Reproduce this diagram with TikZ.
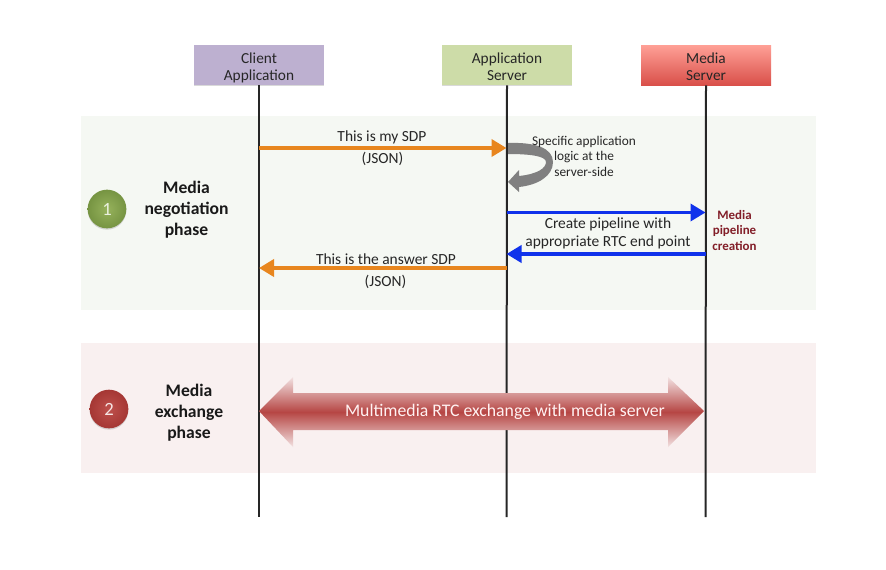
\documentclass[tikz,border=0pt]{standalone}
\usepackage{fontspec}
\setmainfont{Carlito}
\usepackage{xcolor}
\usepackage{tikz}
\usetikzlibrary{arrows.meta, shadows}
\newcommand{\hostrule}{\rule{0pt}{13pt}}
\definecolor{negoband}{RGB}{245, 248, 243}
\definecolor{exchband}{RGB}{249, 240, 240}
\definecolor{clientbox}{RGB}{189, 176, 208}
\definecolor{appbox}{RGB}{205, 220, 168}
\definecolor{mediatop}{RGB}{255, 160, 150}
\definecolor{mediabot}{RGB}{217, 80, 74}
\definecolor{sdporange}{RGB}{232, 134, 30}
\definecolor{rtcblue}{RGB}{16, 50, 235}
\definecolor{logicgray}{RGB}{128, 128, 128}
\definecolor{darkredtext}{RGB}{130, 30, 40}
\definecolor{arrowdark}{RGB}{182, 70, 68}
\definecolor{arrowlight}{RGB}{242, 225, 225}
\definecolor{greenball}{RGB}{150, 178, 92}
\definecolor{greenedge}{RGB}{118, 148, 66}
\definecolor{redball}{RGB}{190, 80, 76}
\definecolor{rededge}{RGB}{165, 55, 52}
\tikzset{
	hostbox/.style={minimum width=97.5pt, minimum height=30pt, inner sep=0pt, align=center,
		font=\fontsize{11.5}{13}\selectfont, text=black!85,
		execute at end node=\rule[-2.2pt]{0pt}{0pt},
		drop shadow={shadow xshift=0pt, shadow yshift=-1pt, opacity=0.3}},
	lifeline/.style={black!85, line width=1.5pt},
	msg/.style={line width=2.7pt, -{Triangle[length=11.25pt, width=12.75pt]}},
	msglabel/.style={font=\fontsize{11.6}{13.5}\selectfont, text=black!85, align=center, inner sep=0pt},
	phaselabel/.style={font=\fontsize{13.2}{15.75}\selectfont\bfseries, text=black!90, align=center, inner sep=0pt},
	phaseball/.style={circle, minimum size=29pt, inner sep=0pt,
		font=\fontsize{14}{15}\selectfont,
		drop shadow={shadow xshift=0pt, shadow yshift=-1pt, opacity=0.3}},
}

\begin{document}
\begin{tikzpicture}[x=0.75pt, y=-0.75pt]
	\useasboundingbox (0,0) rectangle (886,569);

	% phase bands
	\fill[negoband] (81,116) rectangle (816,310);
	\fill[exchband] (81,343) rectangle (816,473);

	% --- hosts and lifelines ---
	\node[hostbox, fill=clientbox] (client) at (259,65) {\hostrule Client\\Application};
	\node[hostbox, fill=appbox] (appsrv) at (507,65) {\hostrule Application\\Server};
	\node[hostbox, top color=mediatop, bottom color=mediabot] (mediasrv) at (706,65) {\hostrule Media\\Server};

	\coordinate (clientend) at (259,517);
	\coordinate (append) at (506.5,517);
	\coordinate (mediaend) at (705.5,517);
	\draw[lifeline] (client.south) -- (clientend);
	\draw[lifeline] (appsrv.south) -- (append);
	\draw[lifeline] (mediasrv.south) -- (mediaend);

	% --- messages ---
	\coordinate (offerc) at (259,148);
	\coordinate (offera) at (506.5,148);
	\coordinate (createa) at (506.5,212.5);
	\coordinate (createm) at (705.5,212.5);
	\coordinate (readym) at (705.5,254);
	\coordinate (readya) at (506.5,254);
	\coordinate (answera) at (506.5,268);
	\coordinate (answerc) at (259,268);

	\draw[msg, sdporange] (offerc) -- (offera);
	\draw[msg, rtcblue] (createa) -- (createm);
	\draw[msg, rtcblue] (readym) -- (readya);
	\draw[msg, sdporange] (answera) -- (answerc);

	\node[msglabel] (offertop) at (382,137) {This is my SDP};
	\node[msglabel] (offerbot) at (382.5,159) {(JSON)};
	\node[msglabel] (createlabel) at (608,233) {Create pipeline with\\appropriate RTC end point};
	\node[msglabel] (answertop) at (386,259) {This is the answer SDP};
	\node[msglabel] (answerbot) at (385.5,282) {(JSON)};

	% server-side loop
	\fill[logicgray] (508,143) .. controls (535,142) and (553,148) .. (553,162)
		.. controls (553,176) and (538,185) .. (519,187)
		-- (519,192) -- (508,182) -- (519,170) -- (519,176)
		.. controls (538,174) and (546,168) .. (546,162)
		.. controls (546,156) and (530,154) .. (508,154) -- cycle;
	\node[msglabel, font=\fontsize{10}{11.6}\selectfont] (logiclabel) at (584,156) {Specific application\\logic at the\\server-side};
	\node[msglabel, font=\fontsize{9.7}{11.3}\selectfont\bfseries, text=darkredtext] (pipelabel) at (734.5,230.5) {Media\\pipeline\\creation};

	% --- phases ---
	\node[phaseball, inner color=greenball, outer color=greenedge, text=white!80!greenball] (ballone) at (107,209) {1};
	\node[phaselabel] (negolabel) at (186.5,210) {Media\\negotiation\\phase};
	\node[phaseball, inner color=redball, outer color=rededge, text=white!85!redball] (balltwo) at (109,409) {2};
	\node[phaselabel] (exchlabel) at (189,413) {Media\\exchange\\phase};

	% --- media exchange arrow ---
	\shade[top color=arrowlight, bottom color=arrowlight, middle color=arrowdark]
		(259,411) -- (293,377) -- (293,393) -- (668,393) -- (668,377) -- (704,411)
		-- (668,447) -- (668,430) -- (293,430) -- (293,447) -- cycle;
	\node[font=\fontsize{13.3}{15}\selectfont, text=white!95!red, inner sep=0pt] (rtclabel) at (505,412) {Multimedia RTC exchange with media server};
\end{tikzpicture}
\end{document}
